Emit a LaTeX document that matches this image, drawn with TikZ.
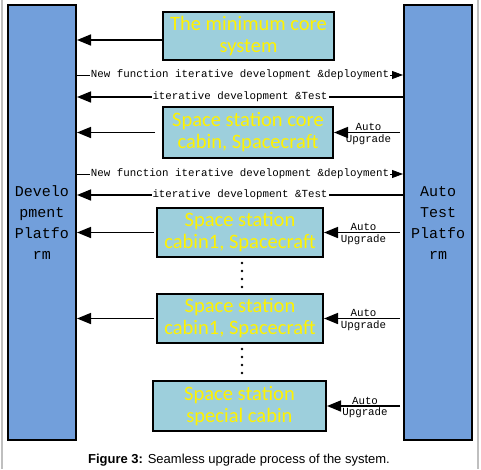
\documentclass[tikz,border=0pt]{standalone}
\usepackage{fontspec}
\setmainfont{Liberation Sans}
\newfontfamily\boxfont{Carlito}
\newfontfamily\monofont{Liberation Mono}
\usepackage{tikz}
\usetikzlibrary{arrows.meta}
\definecolor{platblue}{HTML}{729FDB}
\definecolor{cabincyan}{HTML}{9DCFDC}
\tikzstyle{plat}=[draw, fill=platblue, line width=2pt, minimum width=68pt, minimum height=435pt, align=center, font=\monofont\fontsize{15}{21}\selectfont]
\tikzstyle{cabin}=[draw, fill=cabincyan, line width=2pt, align=center, text=yellow, inner sep=0pt, font=\boxfont\fontsize{20.5}{22}\selectfont]
\tikzstyle{lbl}=[inner sep=1pt, font=\monofont\fontsize{10.8}{12}\selectfont]
\tikzstyle{arr}=[->, line width=1.6pt]
\tikzstyle{newarr}=[-{Triangle[length=11pt,width=8pt]}, line width=0.8pt]
\tikzset{>={Triangle[length=14pt,width=11pt]}}

\begin{document}
\begin{tikzpicture}[x=1pt, y=-1pt]
\useasboundingbox (0,0) rectangle (481,469);
% the grey frame at the sides
\draw[line width=2pt, black!25] (1.5,0) -- (1.5,469);
\draw[line width=2pt, black!25] (477.5,0) -- (477.5,469);
% the two platforms
\node[plat] (dev) at (42,222.5) {Develo\\pment\\Platfo\\rm};
\node[plat] (test) at (438,222.5) {Auto\\Test\\Platfo\\rm};
% the cabins
\node[cabin, minimum width=171pt, minimum height=48pt] (core) at (248.5,36) {The minimum core\\system};
\node[cabin, minimum width=170pt, minimum height=51pt] (cabin0) at (248,132.5) {Space station core\\cabin, Spacecraft};
\node[cabin, minimum width=166pt, minimum height=49pt] (cabin1) at (240,232.5) {Space station\\cabin1, Spacecraft};
\node[cabin, minimum width=166pt, minimum height=49pt] (cabin2) at (240,318.5) {Space station\\cabin1, Spacecraft};
\node[cabin, minimum width=173pt, minimum height=50pt] (special) at (239.5,406) {Space station\\special cabin};
%
% the deliveries to the development platform
\draw[arr] ([yshift=-4pt]core.west) -- ([yshift=-4pt]core.west -| dev.east);
\foreach \n/\s in {cabin0/7, cabin1/2, cabin2/2}
  \draw[arr, shorten <=\s pt] (\n.west) -- (\n.west -| dev.east);
% the auto upgrades
\foreach \n in {cabin0, cabin1, cabin2, special}
  \draw[arr, shorten <=3pt] (\n.east -| test.west) -- (\n.east)
    node[midway, above, lbl] {Auto} node[midway, below, lbl] {Upgrade};
% the iteration rounds
\foreach \y in {75, 174}
  \draw[newarr] (dev.east |- 0,\y) -- (test.west |- 0,\y)
    node[midway, fill=white, lbl] {New function iterative development \&deployment};
\foreach \y in {97, 195}
  \draw[arr] (test.west |- 0,\y) -- (dev.east |- 0,\y)
    node[midway, fill=white, lbl] {iterative development \&Test};
% the dots
\foreach \y in {263, 271, 279, 287, 349, 357, 365, 373}
  \fill (242,\y) circle (1.4pt);
% the caption
\node[font=\fontsize{13}{15}\selectfont] (cap) at (239,460) {\textbf{Figure 3:} Seamless upgrade process of the system.};
\end{tikzpicture}
\end{document}
